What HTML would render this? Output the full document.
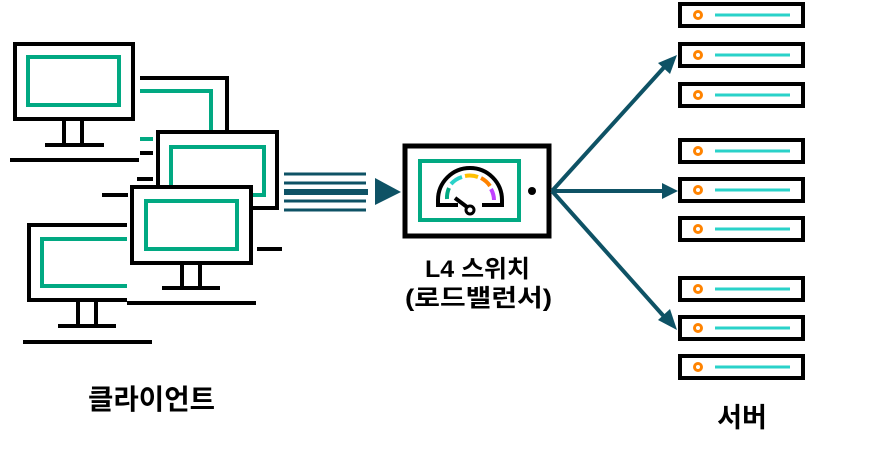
<!DOCTYPE html>
<html><head><meta charset="utf-8"><style>
html,body{margin:0;padding:0;background:#fff;}
svg{display:block;}
text{font-family:"Liberation Sans","Noto Sans CJK KR",sans-serif;font-weight:bold;fill:#000;}
</style></head><body>
<svg width="895" height="452" viewBox="0 0 895 452" xmlns="http://www.w3.org/2000/svg">
<g stroke-linecap="butt" fill="none">
<rect x="15" y="44" width="118" height="75" stroke="#000" stroke-width="4" fill="#fff"/>
<rect x="28" y="57" width="91" height="48" stroke="#01a982" stroke-width="4"/>
<path d="M64 119V145M82 119V145" stroke="#000" stroke-width="4"/>
<path d="M45 145H104" stroke="#000" stroke-width="4"/>
<path d="M10 160H139" stroke="#000" stroke-width="4"/>
<path d="M140 78H227V131" stroke="#000" stroke-width="4"/>
<path d="M140 91H211V131" stroke="#01a982" stroke-width="4"/>
<path d="M140 139H153" stroke="#01a982" stroke-width="4"/>
<path d="M140 153H153M137 179H153M102 195H128" stroke="#000" stroke-width="4"/>
<path d="M127 225H29V300H127" stroke="#000" stroke-width="4"/>
<path d="M127 239H42V286H127" stroke="#01a982" stroke-width="4"/>
<path d="M78 300V326M96 300V326" stroke="#000" stroke-width="4"/>
<path d="M58 326H116" stroke="#000" stroke-width="4"/>
<path d="M23 342H152" stroke="#000" stroke-width="4"/>
<rect x="158" y="132" width="119" height="76" stroke="#000" stroke-width="4" fill="#fff"/>
<rect x="171" y="147" width="93" height="48" stroke="#01a982" stroke-width="4"/>
<path d="M257 249H282" stroke="#000" stroke-width="4"/>
<rect x="132" y="187" width="119" height="76" stroke="#000" stroke-width="4" fill="#fff"/>
<rect x="146" y="201" width="91" height="48" stroke="#01a982" stroke-width="4"/>
<path d="M182 263V288M200 263V288" stroke="#000" stroke-width="4"/>
<path d="M162 288H220" stroke="#000" stroke-width="4"/>
<path d="M127 303H256" stroke="#000" stroke-width="4"/>
<path d="M284 174H366M284 183H366M284 201H366M284 210H366" stroke="#0e5265" stroke-width="3"/>
<path d="M284 192H368" stroke="#0e5265" stroke-width="6"/>
<polygon points="375,178 401,192 375,205" fill="#0e5265"/>
<rect x="405" y="146" width="144" height="90" stroke="#000" stroke-width="5" fill="#fff"/>
<rect x="420" y="161" width="99" height="59" stroke="#01a982" stroke-width="4"/>
<circle cx="532" cy="191" r="4" fill="#000"/>
<path d="M438 205V200A32 32 0 0 1 502 200V205" stroke="#000" stroke-width="4"/>
<path d="M436 205H458M482 205H504" stroke="#000" stroke-width="4"/>
<path d="M447 199 A24 24 0 0 1 449 188" stroke="#01a982" stroke-width="4"/>
<path d="M451 184 A24 24 0 0 1 462 177" stroke="#2ad2c9" stroke-width="4"/>
<path d="M465 176 A24 24 0 0 1 478 177" stroke="#ffc000" stroke-width="4"/>
<path d="M481 178 A24 24 0 0 1 490 186" stroke="#ff8300" stroke-width="4"/>
<path d="M491 189 A24 24 0 0 1 494 200" stroke="#c140ff" stroke-width="4"/>
<path d="M455 198L467 207" stroke="#000" stroke-width="4"/>
<circle cx="470" cy="210" r="4" stroke="#000" stroke-width="3" fill="#fff"/>
<path d="M552 191L668 63M552 191H668M552 191L668 321" stroke="#0e5265" stroke-width="4"/>
<polygon points="677,55 670,74 658,63" fill="#0e5265"/>
<polygon points="678,191 662,183 662,199" fill="#0e5265"/>
<polygon points="677,330 658,320 670,309" fill="#0e5265"/>
</g>
<g>
<g fill="#fff" stroke="#000" stroke-width="4">
<rect x="680" y="4" width="123" height="22"/><rect x="680" y="44" width="123" height="22"/><rect x="680" y="84" width="123" height="22"/>
<rect x="680" y="140" width="123" height="22"/><rect x="680" y="179" width="123" height="22"/><rect x="680" y="218" width="123" height="22"/>
<rect x="680" y="278" width="123" height="22"/><rect x="680" y="317" width="123" height="22"/><rect x="680" y="356" width="123" height="22"/>
</g>
<g fill="none" stroke="#ff8300" stroke-width="3">
<circle cx="698" cy="15" r="3.5"/><circle cx="698" cy="55" r="3.5"/><circle cx="698" cy="95" r="3.5"/>
<circle cx="698" cy="151" r="3.5"/><circle cx="698" cy="190" r="3.5"/><circle cx="698" cy="229" r="3.5"/>
<circle cx="698" cy="289" r="3.5"/><circle cx="698" cy="328" r="3.5"/><circle cx="698" cy="367" r="3.5"/>
</g>
<g stroke="#2ad2c9" stroke-width="3">
<path d="M715 15H790M715 55H790M715 95H790M715 151H790M715 190H790M715 229H790M715 289H790M715 328H790M715 367H790"/>
</g>
</g>
<text x="425" y="277" font-size="24" textLength="105" lengthAdjust="spacingAndGlyphs">L4 스위치</text>
<text x="405" y="306" font-size="24" textLength="147" lengthAdjust="spacingAndGlyphs">(로드밸런서)</text>
<text x="88" y="409" font-size="28" textLength="127" lengthAdjust="spacingAndGlyphs">클라이언트</text>
<text x="742" y="427" font-size="27" text-anchor="middle">서버</text>
</svg>
</body></html>
